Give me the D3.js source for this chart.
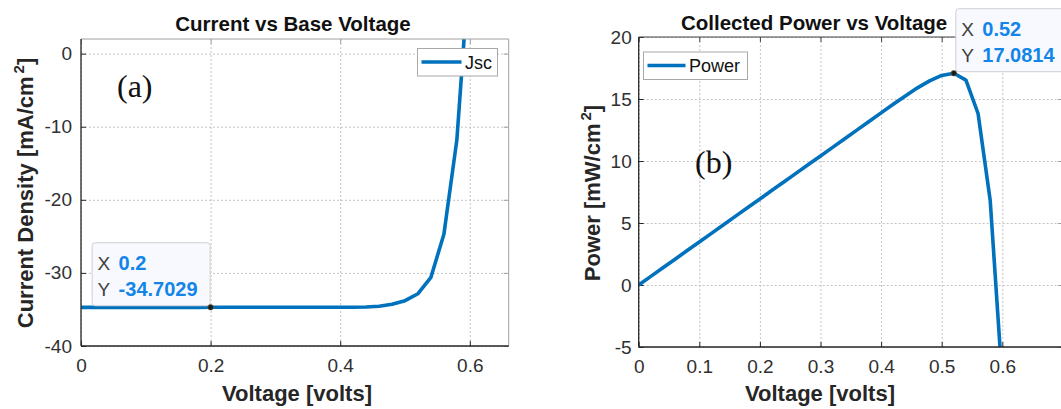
<!DOCTYPE html>
<html>
<head>
<meta charset="utf-8">
<script src="https://cdn.jsdelivr.net/npm/d3@7"></script>
<style>
  body { margin: 0; background: #fff; }
  svg { display: block; font-family: "Liberation Sans", Arial, Helvetica, sans-serif; }
</style>
</head>
<body>
<svg id="chart" width="1061" height="409"></svg>
<script>
  // voltage samples shared by both curves [volts]
  var voltage = [0.00, 0.02, 0.04, 0.06, 0.08, 0.10, 0.12, 0.14, 0.16, 0.18,
                 0.20, 0.22, 0.24, 0.26, 0.28, 0.30, 0.32, 0.34, 0.36, 0.38,
                 0.40, 0.42, 0.44, 0.46, 0.48, 0.50, 0.52, 0.54, 0.56, 0.58, 0.60];

  // (a) current density [mA/cm^2]
  var currentDensity = [-34.72, -34.72, -34.72, -34.71, -34.71, -34.71, -34.71, -34.71, -34.71, -34.71,
                        -34.70, -34.70, -34.70, -34.70, -34.70, -34.70, -34.70, -34.70, -34.70, -34.70,
                        -34.70, -34.69, -34.66, -34.56, -34.30, -33.80, -32.85, -30.60, -24.70, -11.80, 13.00];

  // (b) collected power [mW/cm^2]
  var power = [0, 0.694, 1.388, 2.082, 2.777, 3.471, 4.165, 4.859, 5.553, 6.247,
               6.941, 7.634, 8.328, 9.022, 9.716, 10.41, 11.10, 11.80, 12.49, 13.19,
               13.88, 14.57, 15.25, 15.90, 16.46, 16.90, 17.08, 16.52, 13.83, 6.84, -7.80];

  var xTicksA = [0, 0.2, 0.4, 0.6];
  var yTicksA = [-40, -30, -20, -10, 0];
  var xTicksB = [0, 0.1, 0.2, 0.3, 0.4, 0.5, 0.6];
  var yTicksB = [-5, 0, 5, 10, 15, 20];

  // data tips: [x, y, label x, label y]
  var tipA = [0.2, -34.7029, "0.2", "-34.7029"];
  var tipB = [0.52, 17.0814, "0.52", "17.0814"];

  var blue = "#0072bd";
  var tipBlue = "#1385e8";
  var ink = "#262626";
  var svg = d3.select("#chart");

  function drawPanel(o) {
    var x = d3.scaleLinear().domain(o.xDomain).range([o.left, o.right]);
    var y = d3.scaleLinear().domain(o.yDomain).range([o.bottom, o.top]);
    var w = o.right - o.left, h = o.bottom - o.top;
    var g = svg.append("g");

    /*
      dotted grid
    */
    var gx = g.append("g").attr("transform", "translate(0," + o.top + ")")
      .call(d3.axisBottom(x).tickValues(o.xTicks).tickSize(h).tickFormat(""));
    var gy = g.append("g").attr("transform", "translate(" + o.left + ",0)")
      .call(d3.axisLeft(y).tickValues(o.yTicks).tickSize(-w).tickFormat(""));
    [gx, gy].forEach(function (a) {
      a.select(".domain").remove();
      a.selectAll("line").attr("stroke", "#c4c4c4").attr("stroke-dasharray", "2,2");
    });

    /*
      inner tick marks on all four sides
    */
    var inner = [
      [d3.axisBottom(x).tickValues(o.xTicks), "translate(0," + o.top + ")", o.topCol],
      [d3.axisTop(x).tickValues(o.xTicks), "translate(0," + o.bottom + ")", ink],
      [d3.axisRight(y).tickValues(o.yTicks), "translate(" + o.left + ",0)", ink],
      [d3.axisLeft(y).tickValues(o.yTicks), "translate(" + o.right + ",0)", o.rightCol]
    ];
    inner.forEach(function (d) {
      var a = g.append("g").attr("transform", d[1]).call(d[0].tickSize(5).tickFormat(""));
      a.select(".domain").remove();
      a.selectAll("line").attr("stroke", d[2]);
    });

    /*
      the curve
    */
    var clipId = "clip" + o.name;
    svg.append("clipPath").attr("id", clipId).append("rect")
      .attr("x", o.left).attr("y", o.top).attr("width", w).attr("height", h);
    var line = d3.line().x(function (d) { return x(d[0]); }).y(function (d) { return y(d[1]); });
    g.append("path")
      .datum(d3.zip(voltage, o.series))
      .attr("clip-path", "url(#" + clipId + ")")
      .attr("fill", "none")
      .attr("stroke", blue)
      .attr("stroke-width", 3.6)
      .attr("stroke-linejoin", "round")
      .attr("d", line);

    /*
      axes box
    */
    g.append("line").attr("x1", o.left).attr("x2", o.right).attr("y1", o.top).attr("y2", o.top)
      .attr("stroke", o.topCol);
    g.append("line").attr("x1", o.right).attr("x2", o.right).attr("y1", o.top).attr("y2", o.bottom)
      .attr("stroke", o.rightCol);
    g.append("line").attr("x1", o.left).attr("x2", o.right).attr("y1", o.bottom).attr("y2", o.bottom)
      .attr("stroke", ink).attr("stroke-width", 1.3);
    g.append("line").attr("x1", o.left).attr("x2", o.left).attr("y1", o.top).attr("y2", o.bottom)
      .attr("stroke", ink).attr("stroke-width", 1.3);

    /*
      tick labels
    */
    var fmt = function (d) { return String(d); };
    var lx = g.append("g").attr("transform", "translate(0," + o.bottom + ")")
      .call(d3.axisBottom(x).tickValues(o.xTicks).tickSize(0).tickPadding(13).tickFormat(fmt));
    var ly = g.append("g").attr("transform", "translate(" + o.left + ",0)")
      .call(d3.axisLeft(y).tickValues(o.yTicks).tickSize(0).tickPadding(o.yPad).tickFormat(fmt));
    [lx, ly].forEach(function (a) {
      a.select(".domain").remove();
      a.attr("font-family", null).attr("font-size", 19);
      a.selectAll("text").attr("fill", "#303030");
    });

    /*
      title, axis labels, panel letter
    */
    g.append("text").attr("x", o.titleX).attr("y", o.titleY)
      .attr("text-anchor", o.titleAnchor)
      .attr("font-size", 20.5).attr("font-weight", "bold").attr("fill", "#111")
      .text(o.title);

    g.append("text").attr("x", (o.left + Math.min(o.right, 1000)) / 2).attr("y", 401)
      .attr("x", o.xLabelX)
      .attr("text-anchor", "middle")
      .attr("font-size", 22).attr("font-weight", "bold").attr("fill", ink)
      .text("Voltage [volts]");

    var yl = g.append("text")
      .attr("transform", "translate(" + o.yLabelX + ",193) rotate(-90)")
      .attr("text-anchor", "middle")
      .attr("font-size", 22).attr("font-weight", "bold").attr("fill", ink);
    yl.append("tspan").text(o.yLabel);
    yl.append("tspan").attr("dx", 3).attr("dy", -9).attr("font-size", 15).text("2");
    yl.append("tspan").attr("dy", 9).text("]");

    g.append("text").attr("x", o.letterX).attr("y", o.letterY)
      .attr("font-family", "'Liberation Serif', 'Times New Roman', serif")
      .attr("font-size", 32).attr("fill", "#111")
      .text(o.letter);

    /*
      legend
    */
    var lg = g.append("g").attr("transform", "translate(" + o.legend[0] + "," + o.legend[1] + ")");
    lg.append("rect").attr("x", 0.5).attr("y", 0.5)
      .attr("width", o.legend[2]).attr("height", 27.5)
      .attr("fill", "#fff").attr("stroke", "#a8a8a8");
    lg.append("line").attr("x1", 4.5).attr("x2", 4.5 + o.legend[3]).attr("y1", 14).attr("y2", 14)
      .attr("stroke", blue).attr("stroke-width", 3.6);
    lg.append("text").attr("x", 8 + o.legend[3]).attr("y", 20.5)
      .attr("font-size", 18).attr("fill", "#111").text(o.legendText);

    /*
      data tip
    */
    var t = o.tip;
    var px = x(t[0]), py = y(t[1]);
    var bx = o.tipLeft ? px - 119 : px + 1.5;
    var by = py - 65;
    var tg = svg.append("g").attr("transform", "translate(" + bx + "," + by + ")");
    tg.append("rect").attr("x", 0.5).attr("y", 0.5).attr("rx", 3)
      .attr("width", 118).attr("height", 63)
      .attr("fill", "#f8f9fe").attr("stroke", "#cfcfd4");
    tg.append("text").attr("x", 6).attr("y", 27.5).attr("font-size", 19).attr("fill", "#404040").text("X");
    tg.append("text").attr("x", 27).attr("y", 27.5).attr("font-size", 20).attr("font-weight", "bold")
      .attr("fill", tipBlue).text(t[2]);
    tg.append("text").attr("x", 6).attr("y", 54).attr("font-size", 19).attr("fill", "#404040").text("Y");
    tg.append("text").attr("x", 27).attr("y", 54).attr("font-size", 20).attr("font-weight", "bold")
      .attr("fill", tipBlue).text(t[3]);
    svg.append("circle").attr("cx", px).attr("cy", py).attr("r", 2.8)
      .attr("fill", "#1c1c1c").attr("stroke", "#6b6440").attr("stroke-width", 0.6);
  }

  drawPanel({
    name: "A", series: currentDensity,
    xDomain: [0, 0.66], yDomain: [-40, 2],
    left: 81, right: 508.7, top: 39, bottom: 346,
    xTicks: xTicksA, yTicks: yTicksA, yPad: 9,
    topCol: "#a0a0a0", rightCol: "#a0a0a0",
    title: "Current vs Base Voltage", titleX: 293, titleY: 31, titleAnchor: "middle",
    xLabelX: 297,
    yLabel: "Current Density [mA/cm", yLabelX: 33,
    letter: "(a)", letterX: 117, letterY: 97,
    legend: [417, 48, 80, 40], legendText: "Jsc",
    tip: tipA, tipLeft: true
  });

  drawPanel({
    name: "B", series: power,
    xDomain: [0, 0.7], yDomain: [-5, 20],
    left: 638.7, right: 1062.9, top: 37, bottom: 347,
    xTicks: xTicksB, yTicks: yTicksB, yPad: 7,
    topCol: "#404040", rightCol: "#a0a0a0",
    title: "Collected Power vs Voltage", titleX: 681, titleY: 29.5, titleAnchor: "start",
    xLabelX: 820,
    yLabel: "Power [mW/cm", yLabelX: 600,
    letter: "(b)", letterX: 695, letterY: 173,
    legend: [643, 51.5, 104, 38], legendText: "Power",
    tip: tipB, tipLeft: false
  });
</script>
</body>
</html>
